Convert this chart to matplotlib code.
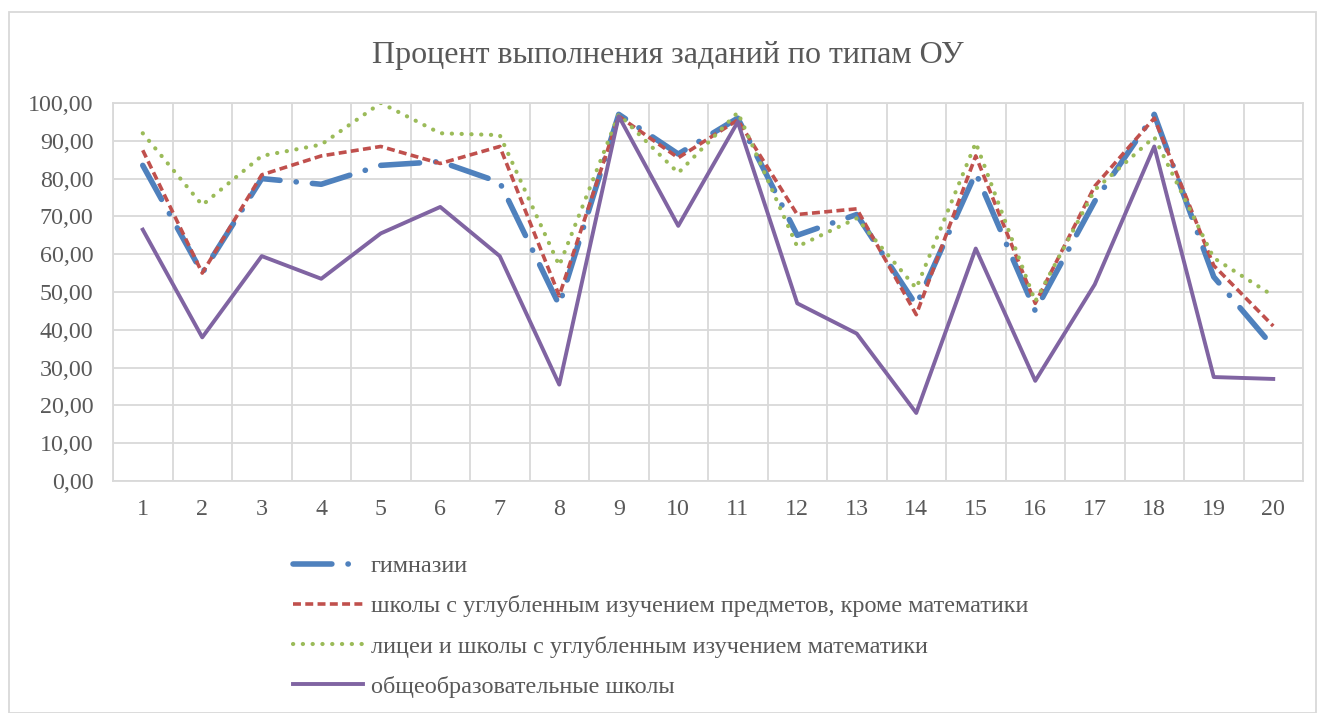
import matplotlib.pyplot as plt
from matplotlib.patches import Rectangle

plt.rcParams['font.family'] = ['Liberation Serif', 'DejaVu Serif']

# номера заданий
zadaniya = list(range(1, 21))

gimnazii = [83.5, 55.0, 80.0, 78.5, 83.5, 84.5, 79.0, 46.5, 97.0, 86.5,
            96.0, 65.0, 70.5, 46.5, 81.5, 45.0, 74.0, 97.0, 54.0, 35.5]
shkoly_ugl = [87.5, 55.0, 81.0, 86.0, 88.5, 84.0, 88.5, 49.0, 96.5, 85.5,
              95.5, 70.5, 72.0, 44.0, 86.0, 47.0, 78.0, 96.0, 57.0, 41.0]
licei = [92.0, 73.0, 86.0, 89.0, 100.0, 92.0, 91.5, 57.0, 97.0, 81.5,
         97.5, 62.0, 69.5, 51.0, 89.5, 47.5, 77.0, 91.0, 59.0, 49.0]
obshcheobr = [66.5, 38.0, 59.5, 53.5, 65.5, 72.5, 59.5, 25.5, 96.5, 67.5,
              95.0, 47.0, 39.0, 18.0, 61.5, 26.5, 52.0, 88.5, 27.5, 27.0]

nazvaniya = ['гимназии',
             'школы с углубленным изучением предметов, кроме математики',
             'лицеи и школы с углубленным изучением математики',
             'общеобразовательные школы']

y_ticks = list(range(0, 101, 10))
y_labels = ['%d,00' % v for v in y_ticks]

tekst = '#595959'
setka = '#D9D9D9'

fig = plt.figure(figsize=(13.23, 7.13), dpi=100)
ax = fig.add_axes([113 / 1323, 1 - 481 / 713, (1303 - 113) / 1323, (481 - 103) / 713])

ax.plot(zadaniya, gimnazii, color='#4F81BD', lw=4.0, dashes=(7.0, 2.9, 0.05, 2.9),
        dash_capstyle='round', solid_capstyle='round', label=nazvaniya[0])
ax.plot(zadaniya, shkoly_ugl, color='#C0504D', lw=2.6, dashes=(2.2, 1.2),
        label=nazvaniya[1])
ax.plot(zadaniya, licei, color='#9BBB59', lw=3.0, dashes=(0.05, 2.3),
        dash_capstyle='round', label=nazvaniya[2])
ax.plot(zadaniya, obshcheobr, color='#8064A2', lw=2.8, label=nazvaniya[3])

ax.set_xlim(0.5, 20.5)
ax.set_ylim(0, 100)
ax.set_yticks(y_ticks)
ax.set_yticklabels(y_labels)
ax.set_xticks(zadaniya)
ax.set_xticks([i + 0.5 for i in range(0, 21)], minor=True)
ax.grid(False)
ax.yaxis.grid(True, color=setka, lw=1.3)
ax.xaxis.grid(True, which='minor', color=setka, lw=1.3)
ax.set_axisbelow(True)
for s in ax.spines.values():
    s.set_color(setka)
    s.set_linewidth(1.3)
ax.tick_params(which='both', length=0, labelsize=17.3, colors=tekst)
ax.tick_params(axis='y', pad=14)
ax.tick_params(axis='x', pad=13)

fig.text(668 / 1323, 1 - 55 / 713, 'Процент выполнения заданий по типам ОУ',
         ha='center', va='center', fontsize=23, color=tekst)

leg = fig.legend(loc='upper left', bbox_to_anchor=(293 / 1323, 1 - 555 / 713),
                 frameon=False, fontsize=17.5, handlelength=2.9, handletextpad=0.3,
                 labelspacing=0.75, borderpad=0, borderaxespad=0)
for t in leg.get_texts():
    t.set_color(tekst)

fig.patches.append(Rectangle((9 / 1323, 0), (1316 - 9) / 1323, 1 - 12 / 713,
                             transform=fig.transFigure, fill=False,
                             edgecolor=setka, lw=1.3))

fig.savefig('out.png', dpi=100)
